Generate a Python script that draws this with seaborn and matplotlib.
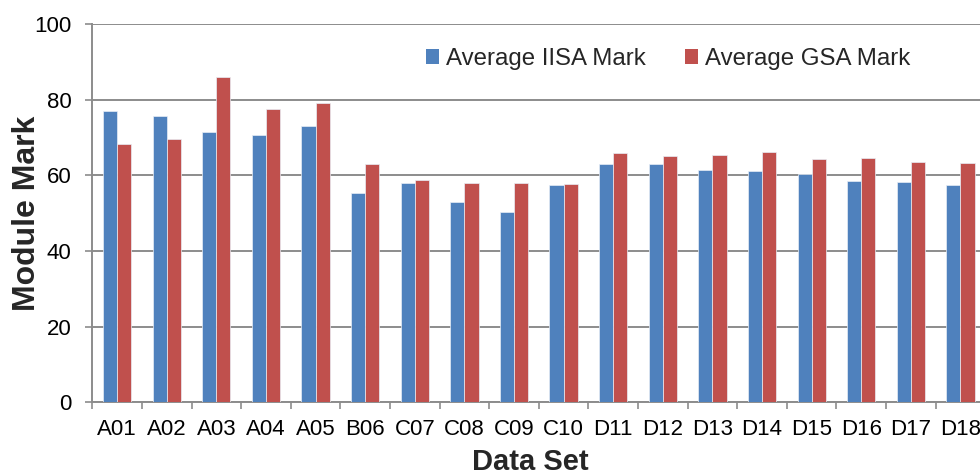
import matplotlib
matplotlib.use("Agg")
import matplotlib.pyplot as plt
import seaborn as sns
import pandas as pd
from matplotlib.patches import Patch
from matplotlib.ticker import FixedLocator

categories = ["A01", "A02", "A03", "A04", "A05", "B06", "C07", "C08", "C09", "C10",
              "D11", "D12", "D13", "D14", "D15", "D16", "D17", "D18"]
iisa = [77.1, 75.6, 71.5, 70.7, 73.1, 55.2, 58.0, 52.9, 50.3, 57.4,
        63.1, 63.0, 61.5, 61.1, 60.4, 58.4, 58.3, 57.4]
gsa = [68.2, 69.6, 85.9, 77.5, 79.0, 62.9, 58.8, 58.0, 57.9, 57.7,
       65.9, 65.2, 65.3, 66.1, 64.4, 64.6, 63.4, 63.3]
series_names = ["Average IISA Mark", "Average GSA Mark"]
colors = ["#4F81BD", "#C0504D"]
yticks = [0, 20, 40, 60, 80, 100]

df = pd.DataFrame({
    "Data Set": categories * 2,
    "Mark": iisa + gsa,
    "Series": [series_names[0]] * len(categories) + [series_names[1]] * len(categories),
})

sns.set_theme(style="white")
plt.rcParams["font.family"] = ["Liberation Sans", "DejaVu Sans"]

fig = plt.figure(figsize=(9.8, 4.74), dpi=100)
ax = fig.add_axes([92.3 / 980, 71.7 / 474, (985.3 - 92.3) / 980, (402.3 - 24) / 474])

sns.barplot(data=df, x="Data Set", y="Mark", hue="Series", order=categories,
            hue_order=series_names, palette=colors, width=0.57, gap=0,
            saturation=1, edgecolor="#e8eef6", linewidth=0.5, ax=ax, legend=False,
            zorder=3)

ax.set_xlim(-0.5, len(categories) - 0.5)
ax.set_ylim(0, 100)
ax.set_yticks(yticks)
ax.yaxis.grid(True, color="#8c8c8c", linewidth=1.4, zorder=0)
ax.xaxis.grid(False)
ax.set_axisbelow(True)

grey = "#8c8c8c"
for side in ["top", "right"]:
    ax.spines[side].set_visible(False)
for side in ["left", "bottom"]:
    ax.spines[side].set_color(grey)
    ax.spines[side].set_linewidth(1.4)

ax.tick_params(axis="y", which="major", length=5, width=1.2, color=grey, pad=10,
               labelsize=16, labelcolor="black", left=True)
ax.tick_params(axis="x", which="major", length=0, pad=12, labelsize=16, labelcolor="black")
ax.xaxis.set_minor_locator(FixedLocator([i - 0.5 for i in range(len(categories) + 1)]))
ax.tick_params(axis="x", which="minor", length=5, width=1.2, color=grey, bottom=True)

ax.set_xlabel("Data Set", fontsize=21, fontweight="bold", labelpad=5.5)
ax.xaxis.label.set_x((530 - 92.3) / 893)
ax.set_ylabel("Module Mark", fontsize=23, fontweight="bold", labelpad=-5.5)

handles = [Patch(facecolor=c, edgecolor="none", label=n) for c, n in zip(colors, series_names)]
fig.legend(handles=handles, loc="center left", bbox_to_anchor=(426 / 980, 1 - 59 / 474),
           ncol=2, frameon=False, fontsize=17.3, handlelength=0.55, handleheight=0.55,
           handletextpad=0.3, columnspacing=1.6, borderpad=0, borderaxespad=0)

fig.savefig("out.png", dpi=100)
